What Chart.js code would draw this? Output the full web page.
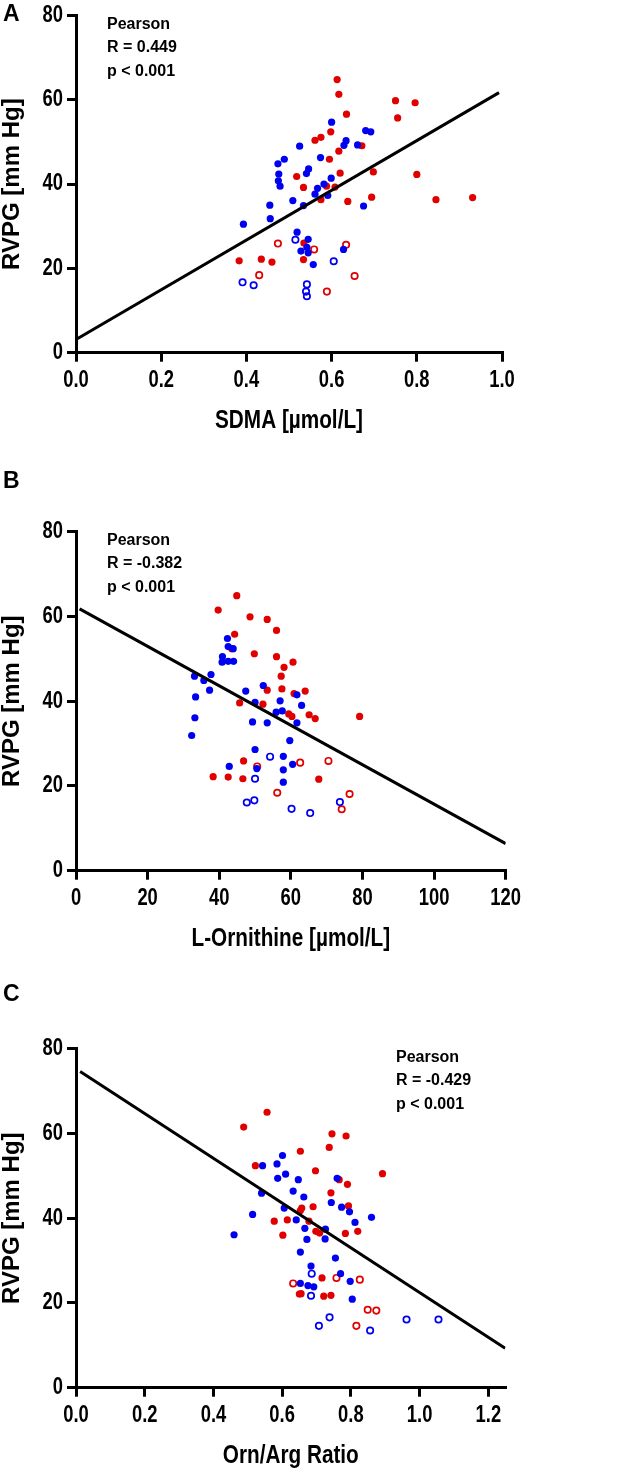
<!DOCTYPE html>
<html>
<head>
<meta charset="utf-8">
<script src="https://cdn.jsdelivr.net/npm/chart.js@4.4.1/dist/chart.umd.min.js"></script>
<style>
  body { margin: 0; background: #fff; }
  #wrap { position: relative; width: 617px; height: 1471px; }
  canvas { position: absolute; left: 0; }
</style>
</head>
<body>
<div id="wrap">
  <canvas id="chartA" width="617" height="470" style="top:0px"></canvas>
  <canvas id="chartB" width="617" height="490" style="top:470px"></canvas>
  <canvas id="chartC" width="617" height="521" style="top:950px"></canvas>
</div>
<script>
// --- Panel A: SDMA vs RVPG ---
const sdmaRedSolid = [[0.613,64.8],[0.617,61.3],[0.635,56.6],[0.750,59.8],[0.796,59.3],[0.755,55.7],[0.598,52.4],[0.561,50.4],[0.575,51.1],[0.671,49.1],[0.617,47.8],[0.595,45.9],[0.620,42.6],[0.518,41.8],[0.698,42.9],[0.800,42.3],[0.534,39.2],[0.588,39.5],[0.608,39.3],[0.575,36.3],[0.638,35.9],[0.694,36.9],[0.845,36.3],[0.931,36.8],[0.535,26.0],[0.534,22.1],[0.383,21.8],[0.435,22.2],[0.460,21.5]];
const sdmaRedOpen = [[0.474,25.9],[0.559,24.5],[0.634,25.6],[0.430,18.4],[0.654,18.2],[0.589,14.5]];
const sdmaBlueSolid = [[0.600,54.7],[0.680,52.7],[0.692,52.4],[0.661,49.3],[0.629,49.2],[0.634,50.3],[0.525,49.0],[0.574,46.3],[0.474,44.8],[0.489,45.9],[0.546,43.6],[0.541,42.5],[0.476,42.4],[0.475,40.8],[0.479,39.5],[0.599,41.4],[0.582,40.0],[0.567,39.0],[0.561,37.6],[0.591,37.3],[0.509,36.1],[0.534,34.9],[0.675,34.8],[0.455,35.0],[0.456,31.8],[0.393,30.5],[0.519,28.6],[0.545,26.9],[0.528,24.1],[0.542,25.0],[0.545,23.7],[0.628,24.5],[0.557,20.9]];
const sdmaBlueOpen = [[0.515,26.8],[0.605,21.7],[0.391,16.7],[0.417,16.0],[0.542,16.2],[0.540,14.5],[0.542,13.4]];
const sdmaFit = [[0.003,3.3],[0.993,61.7]];
const sdmaStats = ["Pearson", "R = 0.449", "p < 0.001"];

// --- Panel B: L-Ornithine vs RVPG ---
const ornRedSolid = [[44.9,64.9],[39.7,61.5],[48.6,59.9],[53.4,59.3],[56.0,56.7],[44.3,55.8],[49.8,51.2],[56.0,50.5],[58.1,48.0],[60.6,49.2],[57.3,45.9],[53.4,42.6],[57.5,42.9],[60.9,41.8],[64.0,42.4],[45.7,39.6],[52.2,39.3],[59.4,37.0],[60.3,36.4],[65.1,36.8],[66.8,35.9],[79.2,36.4],[46.8,25.9],[38.3,22.2],[42.5,22.1],[46.6,21.7],[67.8,21.6],[43.5,52.4]];
const ornRedOpen = [[62.6,25.5],[70.5,25.9],[50.6,24.6],[56.2,18.4],[76.4,18.1],[74.2,14.5]];
const ornBlueSolid = [[42.3,54.8],[42.5,52.9],[43.9,52.4],[40.9,50.5],[40.8,49.2],[42.5,49.4],[44.0,49.4],[33.1,45.9],[35.7,44.9],[37.7,46.3],[37.3,42.6],[33.4,41.0],[33.2,36.1],[32.3,31.9],[47.4,42.4],[52.3,43.7],[50.0,39.7],[57.0,40.1],[61.7,41.5],[63.0,39.0],[55.9,37.4],[57.6,37.7],[49.3,35.1],[53.4,34.9],[61.7,34.9],[59.7,30.7],[50.0,28.6],[57.9,27.0],[60.5,25.1],[42.8,24.6],[50.5,24.1],[57.9,23.8],[57.9,20.9]];
const ornBlueOpen = [[54.2,26.9],[50.0,21.7],[47.7,16.1],[49.8,16.6],[60.2,14.6],[65.4,13.6],[73.7,16.2]];
const ornFit = [[1,61.8],[120,6.4]];
const ornStats = ["Pearson", "R = -0.382", "p < 0.001"];

// --- Panel C: Orn/Arg ratio vs RVPG ---
const ratioRedSolid = [[0.556,65.0],[0.488,61.5],[0.745,59.9],[0.786,59.4],[0.737,56.7],[0.653,55.8],[0.522,52.4],[0.892,50.5],[0.697,51.2],[0.766,49.1],[0.790,48.0],[0.742,46.0],[0.793,42.9],[0.690,42.7],[0.657,42.4],[0.653,41.8],[0.678,39.3],[0.615,39.6],[0.577,39.3],[0.698,36.9],[0.709,36.5],[0.820,36.9],[0.784,36.4],[0.602,36.0],[0.716,25.9],[0.650,22.1],[0.655,22.2],[0.721,21.6],[0.742,21.8]];
const ratioRedOpen = [[0.632,24.6],[0.758,25.9],[0.826,25.5],[0.849,18.4],[0.874,18.2],[0.816,14.6]];
const ratioBlueSolid = [[0.601,54.8],[0.585,52.8],[0.543,52.4],[0.610,50.4],[0.587,49.4],[0.647,49.1],[0.760,49.4],[0.632,46.4],[0.540,45.9],[0.663,45.0],[0.743,43.7],[0.773,42.6],[0.606,42.4],[0.796,41.5],[0.514,40.9],[0.860,40.2],[0.641,39.6],[0.812,39.0],[0.666,37.6],[0.726,37.4],[0.460,36.1],[0.725,35.1],[0.672,35.0],[0.653,32.0],[0.755,30.6],[0.684,28.7],[0.770,26.9],[0.798,25.1],[0.653,24.6],[0.675,24.1],[0.692,23.8],[0.804,20.9]];
const ratioBlueOpen = [[0.686,26.9],[0.684,21.7],[0.738,16.6],[0.707,14.6],[0.856,13.5],[0.962,16.1],[1.055,16.1]];
const ratioFit = [[0.012,74.6],[1.249,9.3]];
const ratioStats = ["Pearson", "R = -0.429", "p < 0.001"];

const yTicks = [0, 20, 40, 60, 80];

const RED = "#e00000";
const BLUE = "#0000f0";
const SANS = "'Liberation Sans', Arial, sans-serif";
const SQUEEZE = 0.8; // the original lettering is condensed

const toXY = arr => arr.map(p => ({ x: p[0], y: p[1] }));

// condensed text: fillText with a maxWidth narrower than the natural width
function squeezed(ctx, text, x, y, k) {
  ctx.fillText(text, x, y, ctx.measureText(text).width * k);
}

const panelText = {
  id: "panelText",
  afterDraw(chart, args, o) {
    const ctx = chart.ctx;
    const area = chart.chartArea;
    const xs = chart.scales.x, ys = chart.scales.y;
    ctx.save();
    ctx.fillStyle = "#000";
    ctx.textBaseline = "middle";

    // tick labels from the scales
    ctx.font = "bold 23px " + SANS;
    ctx.textAlign = "center";
    xs.ticks.forEach(t => squeezed(ctx, t.label, xs.getPixelForValue(t.value), area.bottom + 28, SQUEEZE));
    ctx.textAlign = "right";
    ys.ticks.forEach(t => squeezed(ctx, String(t.value), area.left - 13, ys.getPixelForValue(t.value), SQUEEZE));

    // x axis title
    ctx.font = "bold 25px " + SANS;
    ctx.textAlign = "center";
    squeezed(ctx, o.xTitle, (area.left + area.right) / 2, o.titleY, 0.83);

    // panel letter and Pearson note
    ctx.textAlign = "left";
    ctx.font = "bold 23px " + SANS;
    ctx.fillText(o.letter, o.letterX, o.letterY);
    ctx.font = "bold 16px " + SANS;
    o.lines.forEach((t, i) => ctx.fillText(t, o.noteX, area.top + 8.7 + i * 23.5));
    ctx.restore();
  }
};

function makePanel(id, p) {
  const canvasH = document.getElementById(id).height;
  new Chart(document.getElementById(id), {
    type: "scatter",
    data: {
      datasets: [
        { type: "line", data: toXY(p.fit), borderColor: "#000", borderWidth: 3, pointRadius: 0, showLine: true },
        { data: toXY(p.blueSolid), backgroundColor: BLUE, borderWidth: 0, pointRadius: 3.6 },
        { data: toXY(p.blueOpen), backgroundColor: "rgba(255,255,255,0)", borderColor: BLUE, borderWidth: 1.7, pointRadius: 3.2 },
        { data: toXY(p.redSolid), backgroundColor: RED, borderWidth: 0, pointRadius: 3.6 },
        { data: toXY(p.redOpen), backgroundColor: "rgba(255,255,255,0)", borderColor: RED, borderWidth: 1.7, pointRadius: 3.2 }
      ]
    },
    options: {
      responsive: false,
      animation: false,
      devicePixelRatio: 1,
      layout: { padding: { top: p.areaTop, right: 617 - p.areaRight, bottom: 0, left: 0 } },
      plugins: {
        legend: { display: false },
        tooltip: { enabled: false },
        panelText: { letter: p.letter, letterX: 3, letterY: p.letterY, noteX: p.noteX, lines: p.stats, xTitle: p.xTitle, titleY: p.titleY }
      },
      scales: {
        x: {
          type: "linear",
          min: 0,
          max: p.xMax,
          afterFit: s => { s.height = canvasH - p.areaBottom; },
          border: { display: true, color: "#000", width: 3 },
          grid: { display: true, drawOnChartArea: false, drawTicks: true, tickLength: 9, tickWidth: 3, tickColor: "#000", lineWidth: 3 },
          ticks: {
            display: false,
            stepSize: p.xStep,
            includeBounds: false,
            callback: v => v.toFixed(p.decimals)
          },
          title: { display: false }
        },
        y: {
          type: "linear",
          min: 0,
          max: 80,
          afterFit: s => { s.width = 76; },
          afterBuildTicks: s => { s.ticks = yTicks.map(v => ({ value: v })); },
          border: { display: true, color: "#000", width: 3 },
          grid: { display: true, drawOnChartArea: false, drawTicks: true, tickLength: 9, tickWidth: 3, tickColor: "#000", lineWidth: 3 },
          ticks: { display: false },
          title: {
            display: true,
            text: "RVPG [mm Hg]",
            color: "#000",
            padding: 0,
            font: { family: SANS, size: 24, weight: "bold", lineHeight: 1 }
          }
        }
      }
    },
    plugins: [panelText]
  });
}

makePanel("chartA", {
  letter: "A", letterY: 14.5, noteX: 107, stats: sdmaStats,
  xTitle: "SDMA [µmol/L]", xMax: 1, xStep: 0.2, decimals: 1,
  areaTop: 15.5, areaBottom: 352.7, areaRight: 502, titleY: 421,
  fit: sdmaFit, redSolid: sdmaRedSolid, redOpen: sdmaRedOpen, blueSolid: sdmaBlueSolid, blueOpen: sdmaBlueOpen
});

makePanel("chartB", {
  letter: "B", letterY: 12, noteX: 107, stats: ornStats,
  xTitle: "L-Ornithine [µmol/L]", xMax: 120, xStep: 20, decimals: 0,
  areaTop: 61.7, areaBottom: 400.7, areaRight: 505.7, titleY: 469,
  fit: ornFit, redSolid: ornRedSolid, redOpen: ornRedOpen, blueSolid: ornBlueSolid, blueOpen: ornBlueOpen
});

makePanel("chartC", {
  letter: "C", letterY: 45, noteX: 396, stats: ratioStats,
  xTitle: "Orn/Arg Ratio", xMax: 1.25, xStep: 0.2, decimals: 1,
  areaTop: 98.7, areaBottom: 437.7, areaRight: 505.5, titleY: 506,
  fit: ratioFit, redSolid: ratioRedSolid, redOpen: ratioRedOpen, blueSolid: ratioBlueSolid, blueOpen: ratioBlueOpen
});
</script>
</body>
</html>
